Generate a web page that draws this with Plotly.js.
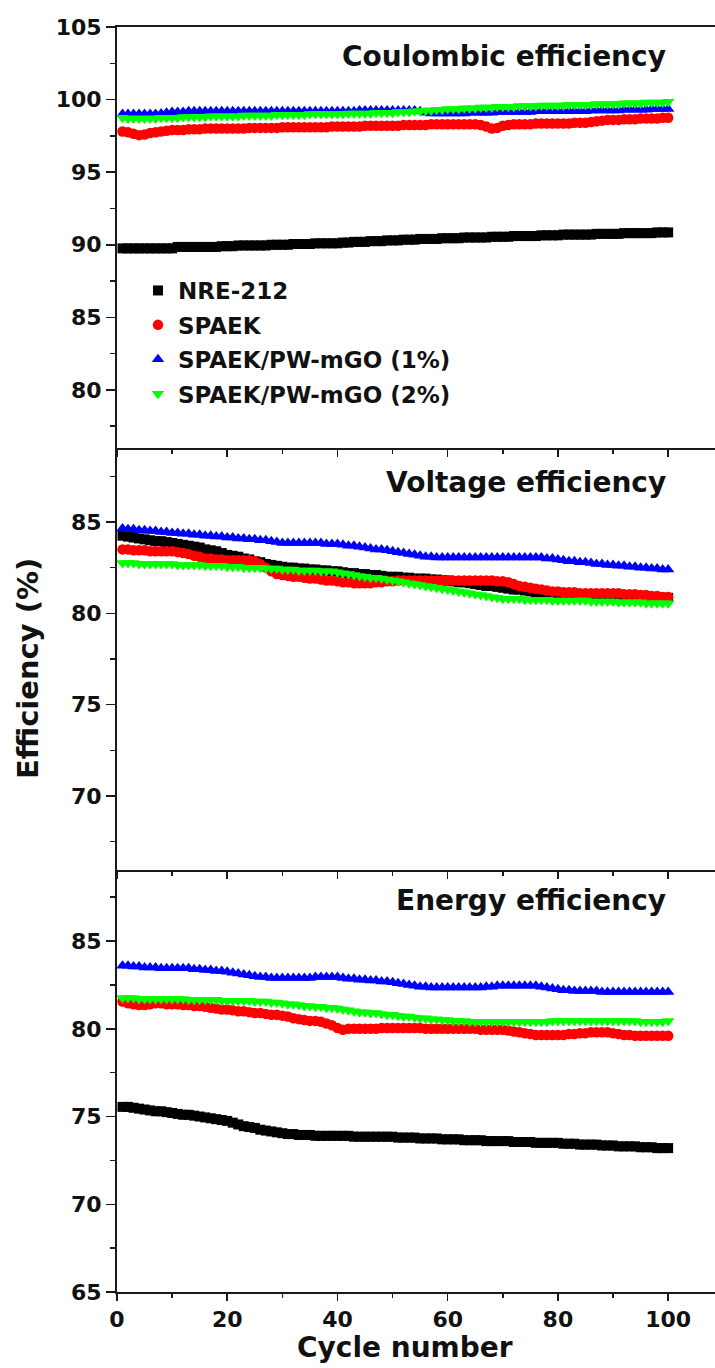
<!DOCTYPE html>
<html>
<head>
<meta charset="utf-8">
<script src="https://cdn.plot.ly/plotly-3.0.1.min.js"></script>
<style>html,body{margin:0;padding:0;background:#fff;}#chart{width:715px;height:1368px;}</style>
</head>
<body>
<div id="chart"></div>
<script>
// ---- data ----
const seriesNames = ["NRE-212", "SPAEK", "SPAEK/PW-mGO (1%)", "SPAEK/PW-mGO (2%)"];
const panelTitles = ["Coulombic efficiency", "Voltage efficiency", "Energy efficiency"];
const cycles = Array.from({length: 100}, (_, i) => i + 1);

// Coulombic efficiency (%)
const ceNRE = [
89.75,89.75,89.75,89.75,89.75,89.75,89.75,89.75,89.75,89.75,
89.85,89.85,89.85,89.85,89.85,89.85,89.85,89.85,89.9,89.9,
89.9,89.95,89.95,89.95,89.95,89.95,89.95,90.0,90.0,90.0,
90.0,90.05,90.05,90.05,90.05,90.1,90.1,90.1,90.1,90.1,
90.15,90.15,90.2,90.2,90.2,90.25,90.25,90.25,90.3,90.3,
90.3,90.35,90.35,90.35,90.4,90.4,90.4,90.4,90.45,90.45,
90.45,90.45,90.5,90.5,90.5,90.5,90.5,90.55,90.55,90.55,
90.55,90.6,90.6,90.6,90.6,90.6,90.65,90.65,90.65,90.65,
90.7,90.7,90.7,90.7,90.7,90.7,90.75,90.75,90.75,90.75,
90.75,90.8,90.8,90.8,90.8,90.8,90.8,90.85,90.85,90.85];
const ceSPAEK = [
97.8,97.75,97.65,97.55,97.6,97.7,97.75,97.8,97.85,97.9,
97.9,97.9,97.95,97.95,97.95,98.0,98.0,98.0,98.0,98.0,
98.0,98.0,98.0,98.05,98.05,98.05,98.05,98.05,98.05,98.1,
98.1,98.1,98.1,98.1,98.1,98.1,98.1,98.1,98.15,98.15,
98.15,98.15,98.15,98.15,98.2,98.2,98.2,98.2,98.2,98.2,
98.2,98.25,98.25,98.25,98.25,98.25,98.3,98.3,98.3,98.3,
98.3,98.3,98.3,98.3,98.3,98.25,98.15,98.0,98.05,98.2,
98.25,98.3,98.3,98.3,98.3,98.35,98.35,98.35,98.35,98.35,
98.35,98.35,98.4,98.4,98.4,98.45,98.5,98.55,98.6,98.6,
98.6,98.65,98.65,98.65,98.7,98.7,98.7,98.7,98.75,98.75];
const ceGO1 = [
99.0,99.0,99.0,99.0,99.0,99.0,99.0,99.05,99.1,99.15,
99.15,99.15,99.2,99.2,99.2,99.2,99.2,99.2,99.2,99.2,
99.2,99.2,99.2,99.2,99.2,99.2,99.2,99.2,99.2,99.2,
99.2,99.2,99.2,99.2,99.2,99.2,99.2,99.2,99.2,99.2,
99.2,99.2,99.2,99.25,99.25,99.25,99.25,99.25,99.25,99.25,
99.25,99.25,99.25,99.25,99.2,99.1,99.05,99.05,99.05,99.05,
99.05,99.05,99.05,99.1,99.1,99.1,99.1,99.1,99.15,99.15,
99.15,99.15,99.15,99.15,99.15,99.2,99.2,99.2,99.2,99.2,
99.2,99.2,99.2,99.2,99.2,99.25,99.25,99.25,99.25,99.25,
99.25,99.3,99.3,99.3,99.3,99.3,99.35,99.35,99.35,99.35];
const ceGO2 = [
98.75,98.7,98.7,98.7,98.7,98.7,98.7,98.75,98.75,98.75,
98.75,98.8,98.8,98.8,98.8,98.8,98.85,98.85,98.85,98.85,
98.85,98.85,98.9,98.9,98.9,98.9,98.9,98.9,98.95,98.95,
98.95,98.95,98.95,98.95,99.0,99.0,99.0,99.0,99.0,99.0,
99.0,99.05,99.05,99.05,99.05,99.05,99.1,99.1,99.1,99.1,
99.15,99.15,99.15,99.2,99.2,99.25,99.25,99.3,99.3,99.35,
99.35,99.35,99.4,99.4,99.4,99.45,99.45,99.45,99.5,99.5,
99.5,99.5,99.55,99.55,99.55,99.55,99.6,99.6,99.6,99.6,
99.6,99.65,99.65,99.65,99.65,99.65,99.7,99.7,99.7,99.7,
99.7,99.75,99.75,99.75,99.75,99.8,99.8,99.8,99.8,99.85];

// Voltage efficiency (%)
const veNRE = [
84.25,84.2,84.15,84.1,84.05,84.0,83.95,83.95,83.9,83.85,
83.8,83.75,83.7,83.65,83.6,83.5,83.45,83.4,83.3,83.2,
83.15,83.1,83.0,82.95,82.85,82.8,82.7,82.65,82.6,82.55,
82.5,82.5,82.45,82.45,82.4,82.4,82.35,82.35,82.3,82.3,
82.25,82.2,82.2,82.15,82.15,82.1,82.1,82.05,82.0,82.0,
82.0,81.95,81.95,81.9,81.9,81.9,81.85,81.85,81.8,81.8,
81.75,81.7,81.7,81.65,81.6,81.55,81.5,81.5,81.45,81.4,
81.35,81.3,81.3,81.25,81.2,81.15,81.1,81.1,81.05,81.05,
81.05,81.0,81.0,81.0,81.0,81.0,80.95,80.95,80.95,80.95,
80.95,80.9,80.9,80.9,80.9,80.9,80.85,80.85,80.85,80.85];
const veSPAEK = [
83.5,83.5,83.45,83.45,83.45,83.4,83.4,83.4,83.4,83.4,
83.35,83.3,83.25,83.15,83.1,83.0,83.0,82.95,82.95,82.9,
82.9,82.9,82.9,82.9,82.85,82.7,82.5,82.3,82.15,82.1,
82.05,82.0,82.0,81.95,81.9,81.9,81.85,81.8,81.8,81.75,
81.7,81.7,81.65,81.65,81.65,81.65,81.7,81.7,81.75,81.75,
81.8,81.8,81.8,81.8,81.8,81.8,81.8,81.8,81.8,81.8,
81.8,81.8,81.8,81.8,81.8,81.8,81.8,81.8,81.75,81.75,
81.7,81.6,81.5,81.45,81.4,81.35,81.3,81.25,81.2,81.2,
81.15,81.15,81.15,81.1,81.1,81.1,81.1,81.1,81.1,81.1,
81.1,81.05,81.05,81.05,81.0,81.0,80.95,80.95,80.9,80.9];
const veGO1 = [
84.65,84.6,84.6,84.55,84.55,84.5,84.5,84.45,84.45,84.4,
84.4,84.35,84.35,84.3,84.3,84.25,84.25,84.2,84.2,84.15,
84.15,84.1,84.1,84.05,84.05,84.0,84.0,83.95,83.9,83.85,
83.85,83.85,83.85,83.85,83.85,83.85,83.85,83.8,83.8,83.8,
83.75,83.7,83.7,83.65,83.6,83.55,83.5,83.5,83.45,83.4,
83.35,83.3,83.25,83.2,83.15,83.1,83.1,83.05,83.05,83.05,
83.05,83.05,83.05,83.05,83.05,83.05,83.05,83.05,83.05,83.05,
83.05,83.05,83.05,83.05,83.05,83.05,83.05,83.0,83.0,82.95,
82.9,82.85,82.85,82.8,82.8,82.75,82.7,82.7,82.65,82.65,
82.6,82.6,82.55,82.55,82.5,82.5,82.45,82.45,82.4,82.4];
const veGO2 = [
82.75,82.75,82.75,82.7,82.7,82.7,82.7,82.7,82.7,82.7,
82.65,82.65,82.65,82.65,82.65,82.6,82.6,82.6,82.6,82.55,
82.55,82.55,82.5,82.5,82.5,82.5,82.45,82.45,82.45,82.4,
82.4,82.4,82.35,82.35,82.35,82.35,82.3,82.3,82.3,82.25,
82.2,82.15,82.1,82.05,82.0,81.95,81.95,81.9,81.85,81.8,
81.75,81.7,81.65,81.6,81.55,81.5,81.45,81.4,81.35,81.3,
81.25,81.2,81.15,81.1,81.05,81.0,80.95,80.9,80.85,80.8,
80.8,80.8,80.8,80.75,80.75,80.75,80.75,80.75,80.7,80.7,
80.7,80.7,80.7,80.7,80.7,80.65,80.65,80.65,80.65,80.65,
80.6,80.6,80.6,80.6,80.6,80.55,80.55,80.55,80.55,80.55];

// Energy efficiency (%)
const eeNRE = [
75.55,75.55,75.5,75.45,75.4,75.35,75.3,75.3,75.25,75.2,
75.15,75.1,75.1,75.05,75.0,74.95,74.9,74.85,74.8,74.75,
74.65,74.55,74.45,74.4,74.35,74.25,74.2,74.15,74.1,74.05,
74.0,74.0,73.95,73.95,73.95,73.9,73.9,73.9,73.9,73.9,
73.9,73.9,73.85,73.85,73.85,73.85,73.85,73.85,73.85,73.85,
73.8,73.8,73.8,73.8,73.75,73.75,73.75,73.75,73.7,73.7,
73.7,73.7,73.65,73.65,73.65,73.65,73.6,73.6,73.6,73.6,
73.6,73.55,73.55,73.55,73.55,73.5,73.5,73.5,73.5,73.5,
73.45,73.45,73.45,73.4,73.4,73.4,73.4,73.35,73.35,73.35,
73.3,73.3,73.3,73.3,73.25,73.25,73.25,73.2,73.2,73.2];
const eeSPAEK = [
81.55,81.45,81.4,81.35,81.35,81.4,81.45,81.45,81.4,81.4,
81.4,81.35,81.35,81.3,81.3,81.25,81.2,81.15,81.1,81.1,
81.05,81.0,81.0,80.95,80.9,80.9,80.85,80.8,80.8,80.75,
80.7,80.6,80.55,80.5,80.45,80.45,80.4,80.3,80.2,80.05,
79.95,80.0,80.0,80.0,80.0,80.0,80.0,80.05,80.05,80.05,
80.05,80.05,80.05,80.05,80.05,80.0,80.0,80.0,80.0,80.0,
80.0,80.0,80.0,80.0,80.0,79.95,79.95,79.95,79.95,79.95,
79.9,79.85,79.8,79.75,79.7,79.65,79.65,79.65,79.65,79.65,
79.65,79.7,79.7,79.75,79.75,79.8,79.8,79.8,79.8,79.75,
79.7,79.65,79.65,79.6,79.6,79.6,79.6,79.6,79.6,79.6];
const eeGO1 = [
83.6,83.6,83.55,83.55,83.5,83.5,83.5,83.45,83.45,83.45,
83.45,83.45,83.45,83.4,83.4,83.35,83.35,83.3,83.3,83.25,
83.2,83.15,83.1,83.05,83.0,82.95,82.95,82.9,82.9,82.9,
82.9,82.9,82.9,82.9,82.9,82.95,82.95,82.95,82.95,82.95,
82.9,82.85,82.85,82.8,82.8,82.75,82.75,82.7,82.7,82.65,
82.6,82.55,82.5,82.45,82.4,82.4,82.35,82.35,82.35,82.35,
82.35,82.35,82.35,82.35,82.35,82.35,82.4,82.4,82.45,82.45,
82.45,82.45,82.45,82.45,82.45,82.45,82.4,82.35,82.3,82.25,
82.2,82.2,82.15,82.15,82.15,82.15,82.15,82.1,82.1,82.1,
82.1,82.1,82.1,82.1,82.1,82.1,82.1,82.1,82.1,82.1];
const eeGO2 = [
81.75,81.75,81.75,81.7,81.7,81.7,81.7,81.7,81.7,81.7,
81.7,81.7,81.65,81.65,81.65,81.65,81.65,81.65,81.6,81.6,
81.6,81.6,81.6,81.6,81.55,81.55,81.55,81.5,81.5,81.45,
81.4,81.4,81.35,81.3,81.3,81.25,81.25,81.2,81.2,81.15,
81.1,81.05,81.0,80.95,80.95,80.9,80.9,80.85,80.8,80.8,
80.75,80.7,80.7,80.65,80.6,80.6,80.55,80.55,80.5,80.5,
80.45,80.45,80.45,80.4,80.4,80.4,80.4,80.4,80.4,80.4,
80.4,80.4,80.4,80.4,80.4,80.4,80.4,80.4,80.45,80.45,
80.45,80.45,80.45,80.45,80.45,80.45,80.45,80.45,80.45,80.45,
80.45,80.45,80.45,80.45,80.4,80.4,80.4,80.4,80.4,80.45];

// ---- styling ----
const colors = ["#000000", "#ff0000", "#0000ff", "#00ff00"];
const symbols = ["square", "circle", "triangle-up", "triangle-down"];
const sizes = [10, 10.5, 11, 11];
const FONT = "DejaVu Sans, Arial, sans-serif";

const panels = [
  {data: [ceNRE, ceSPAEK, ceGO1, ceGO2], xa: "x3", ya: "y"},
  {data: [veNRE, veSPAEK, veGO1, veGO2], xa: "x2", ya: "y2"},
  {data: [eeNRE, eeSPAEK, eeGO1, eeGO2], xa: "x", ya: "y3"}
];

const traces = [];
panels.forEach((p, pi) => {
  p.data.forEach((vals, si) => {
    traces.push({
      type: "scatter", mode: "markers",
      x: cycles, y: vals,
      xaxis: p.xa, yaxis: p.ya,
      name: seriesNames[si],
      legendgroup: "g" + si,
      showlegend: pi === 0,
      marker: {color: colors[si], symbol: symbols[si], size: sizes[si], line: {width: 0}},
      hoverinfo: "x+y+name"
    });
  });
});

const H = 1368, W = 715;
const L = 117 / W;
function dom(topPx, botPx) { return [1 - botPx / H, 1 - topPx / H]; }

const tickFont = {family: FONT, size: 22, color: "#111", weight: "bold"};
const lineCol = "#1a1a1a";

function yax(range, d) {
  return {
    domain: d, range: range, anchor: "x", showgrid: false, zeroline: false,
    showline: true, linecolor: lineCol, linewidth: 2,
    ticks: "outside", ticklen: 9, tickwidth: 1.5, tickcolor: lineCol,
    dtick: 5, tick0: 0, tickfont: tickFont,
    minor: {dtick: 2.5, tick0: 0, ticks: "outside", ticklen: 5, tickwidth: 1.5, tickcolor: lineCol}
  };
}
function xax(anchor, labels, mirror) {
  return {
    domain: [L, 1], range: [0, 108.5], anchor: anchor, showgrid: false, zeroline: false,
    showline: true, linecolor: lineCol, linewidth: 2, mirror: mirror,
    ticks: "outside", ticklen: 7, tickwidth: 1.5, tickcolor: lineCol,
    dtick: 20, tick0: 0, showticklabels: labels, tickfont: tickFont,
    minor: {dtick: 10, tick0: 0, ticks: "outside", ticklen: 4, tickwidth: 1.5, tickcolor: lineCol}
  };
}

const yTop = yax([76, 105], dom(27, 448)); yTop.anchor = "x3";
const yMid = yax([65.95, 89.05], dom(448, 870)); yMid.anchor = "x2";
const yBot = yax([65, 89.05], dom(870, 1292)); yBot.anchor = "x";

const titleFont = {family: FONT, size: 28, color: "#111", weight: "bold"};
const annotations = [
  {text: panelTitles[0], x: 668 / W, y: 1 - 57 / H},
  {text: panelTitles[1], x: 668 / W, y: 1 - 482 / H},
  {text: panelTitles[2], x: 668 / W, y: 1 - 901 / H}
].map(a => Object.assign(a, {xref: "paper", yref: "paper", xanchor: "right", yanchor: "middle",
  showarrow: false, font: titleFont}));
annotations.push({text: "Efficiency (%)", textangle: -90, x: 28 / W, y: 1 - 669 / H,
  xref: "paper", yref: "paper", xanchor: "center", yanchor: "middle", showarrow: false,
  font: {family: FONT, size: 29, color: "#111", weight: "bold"}});
annotations.push({text: "Cycle number", x: 405 / W, y: 1 - 1347 / H,
  xref: "paper", yref: "paper", xanchor: "center", yanchor: "middle", showarrow: false,
  font: {family: FONT, size: 28, color: "#111", weight: "bold"}});

const layout = {
  width: W, height: H,
  margin: {l: 0, r: 0, t: 0, b: 0},
  paper_bgcolor: "#ffffff", plot_bgcolor: "#ffffff",
  showlegend: true,
  legend: {x: 138 / W, y: 1 - 269 / H, xanchor: "left", yanchor: "top",
    bgcolor: "rgba(0,0,0,0)", borderwidth: 0, traceorder: "grouped", tracegroupgap: 1.5,
    font: {family: FONT, size: 23, color: "#111", weight: "bold"}},
  xaxis: xax("y3", true, false),
  xaxis2: xax("y2", false, false),
  xaxis3: xax("y", false, true),
  yaxis: yTop, yaxis2: yMid, yaxis3: yBot,
  annotations: annotations
};

Plotly.newPlot("chart", traces, layout, {displayModeBar: false, staticPlot: true});
</script>
</body>
</html>
